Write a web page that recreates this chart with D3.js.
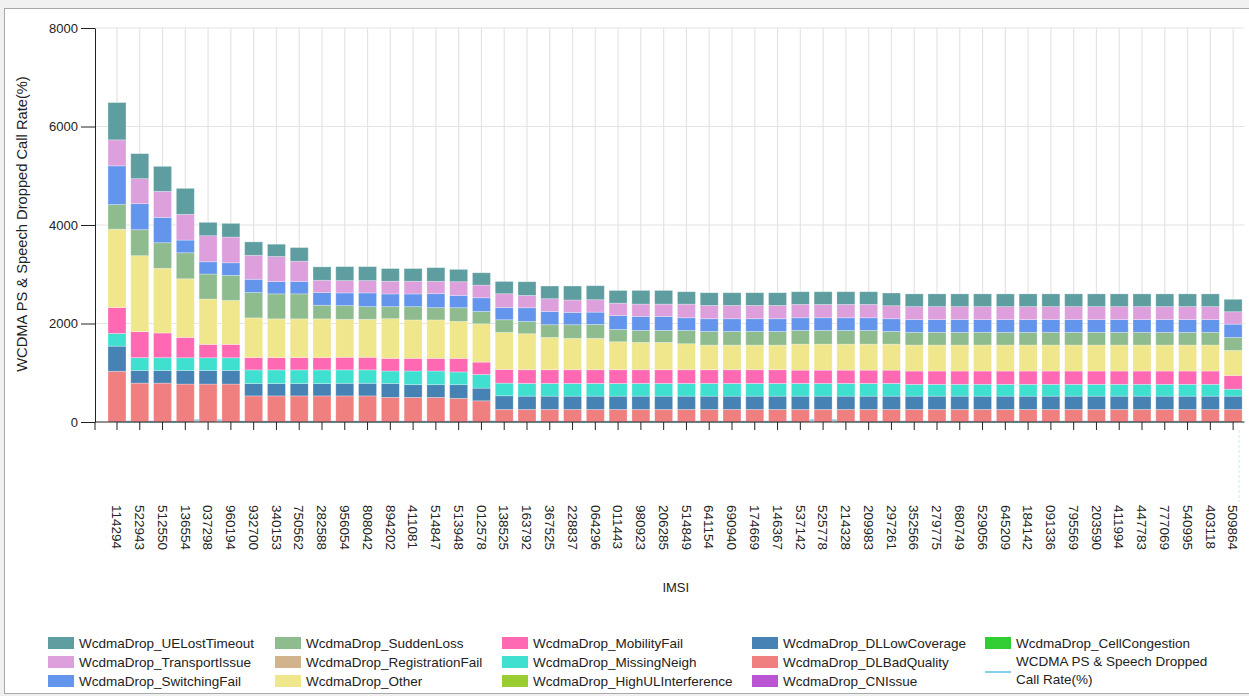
<!DOCTYPE html>
<html>
<head>
<meta charset="utf-8">
<script src="https://cdn.jsdelivr.net/npm/d3@7"></script>
<style>
  html, body { margin: 0; padding: 0; background: #f0f0f0; }
  text { font-family: "Liberation Sans", Arial, sans-serif; }
</style>
</head>
<body>
<div id="chart"></div>
<script>
// categories (IMSI suffixes)
var imsi = ["114294","522943","512550","136554","037298","960194","932700","340153","750562","282588",
            "956054","808042","894202","411081","514847","513948","012578","138525","163792","367525",
            "228837","064296","011443","980923","206285","514849","641154","690940","174669","146367",
            "537142","525778","214328","209983","297261","352566","279775","680749","529056","645209",
            "184142","091336","795569","203590","411994","447783","777069","540995","403118","509864"]

// stacked series, bottom to top
var dlBadQuality = [1030,790,790,770,770,770,530,530,530,530,
                    530,530,500,500,500,480,430,255,255,255,
                    255,255,255,255,255,255,255,255,255,255,
                    255,255,255,255,255,255,255,255,255,255,
                    255,255,255,255,255,255,255,255,255,255]
var dlLowCoverage = [510,258,258,278,278,278,250,250,250,250,
                     256,256,284,258,258,278,258,278,270,270,
                     270,270,270,270,270,270,270,270,270,270,
                     270,270,270,270,270,270,270,270,270,270,
                     270,270,270,270,270,270,270,270,270,270]
var missingNeigh = [257,258,258,256,256,256,278,278,278,278,
                    272,272,252,278,278,258,276,256,258,258,
                    258,258,258,258,258,258,258,258,258,258,
                    258,258,258,258,258,240,240,240,240,240,
                    240,240,240,240,240,240,240,240,240,142]
var mobilityFail = [528,528,501,414,272,272,250,250,250,250,
                    256,256,256,256,256,276,252,278,278,278,
                    278,278,278,278,278,278,278,278,278,278,
                    270,270,270,270,270,270,270,270,270,270,
                    270,270,270,270,270,270,270,270,270,278]
var other = [1590,1543,1313,1190,920,893,806,786,786,786,
             771,771,806,780,780,751,778,751,731,656,
             636,636,568,555,555,528,500,500,500,500,
             528,528,528,528,528,528,528,528,528,528,
             528,528,528,528,528,528,528,528,528,508]
var suddenLoss = [501,528,520,528,508,508,514,508,508,276,
                  278,258,244,270,250,278,250,258,250,258,
                  278,284,250,244,244,270,278,278,278,278,
                  278,278,278,278,258,258,258,258,258,258,
                  258,258,258,258,258,258,258,258,258,264]
var switchingFail = [785,528,515,258,250,256,270,250,250,258,
                     258,278,258,258,284,250,278,250,278,270,
                     250,250,284,284,284,258,258,258,258,258,
                     258,258,258,258,258,258,258,258,258,258,
                     258,258,258,258,258,258,258,258,258,270]
var transportIssue = [528,508,528,522,528,522,487,508,412,250,
                      250,250,258,258,250,278,258,278,250,258,
                      252,252,250,250,250,276,270,270,270,270,
                      270,270,270,270,264,264,264,264,264,264,
                      264,264,264,264,264,264,264,264,264,252]
var ueLostTimeout = [757,508,508,528,272,278,272,250,278,272,
                     284,284,258,258,278,250,250,250,278,258,
                     284,284,258,278,278,252,258,258,258,258,
                     258,258,258,258,258,258,258,258,258,258,
                     258,258,258,258,258,258,258,258,258,252]

// line series
var dropRate = [8,6,7,9,58,10,6,5,7,5,
                6,5,7,6,5,6,8,5,6,7,
                6,5,7,6,5,6,7,6,5,6,
                8,55,9,6,5,6,5,6,7,5,
                6,5,6,7,5,6,5,6,7,5]

var yTicks = [0, 2000, 4000, 6000, 8000]

var series = [
  {name: "WcdmaDrop_DLBadQuality", color: "#F08080", values: dlBadQuality},
  {name: "WcdmaDrop_DLLowCoverage", color: "#4682B4", values: dlLowCoverage},
  {name: "WcdmaDrop_MissingNeigh", color: "#40E0D0", values: missingNeigh},
  {name: "WcdmaDrop_MobilityFail", color: "#FF69B4", values: mobilityFail},
  {name: "WcdmaDrop_Other", color: "#F0E68C", values: other},
  {name: "WcdmaDrop_SuddenLoss", color: "#8FBC8F", values: suddenLoss},
  {name: "WcdmaDrop_SwitchingFail", color: "#6495ED", values: switchingFail},
  {name: "WcdmaDrop_TransportIssue", color: "#DDA0DD", values: transportIssue},
  {name: "WcdmaDrop_UELostTimeout", color: "#5F9EA0", values: ueLostTimeout}
]
var lineName = "WCDMA PS & Speech Dropped Call Rate(%)"
var lineColor = "#87CEEB"

// legend, column by column
var legendCols = [
  [["WcdmaDrop_UELostTimeout", "#5F9EA0"], ["WcdmaDrop_TransportIssue", "#DDA0DD"], ["WcdmaDrop_SwitchingFail", "#6495ED"]],
  [["WcdmaDrop_SuddenLoss", "#8FBC8F"], ["WcdmaDrop_RegistrationFail", "#D2B48C"], ["WcdmaDrop_Other", "#F0E68C"]],
  [["WcdmaDrop_MobilityFail", "#FF69B4"], ["WcdmaDrop_MissingNeigh", "#40E0D0"], ["WcdmaDrop_HighULInterference", "#9ACD32"]],
  [["WcdmaDrop_DLLowCoverage", "#4682B4"], ["WcdmaDrop_DLBadQuality", "#F08080"], ["WcdmaDrop_CNIssue", "#BA55D3"]],
  [["WcdmaDrop_CellCongestion", "#32CD32"]]
]
var legendX = [48, 275, 502, 752, 985]

var W = 1249, H = 696
var plotLeft = 95, plotRight = 1244.5, plotTop = 28, plotBottom = 422

var svg = d3.select("#chart").append("svg")
  .attr("width", W).attr("height", H)

// window panel
svg.append("rect").attr("x", 4.5).attr("y", 8.5).attr("width", W).attr("height", 685)
  .attr("fill", "#fff").attr("stroke", "#a9a9a9")

var x = d3.scaleBand().domain(imsi)
  .range([105.6, plotRight]).paddingInner(0.21).paddingOuter(0.105)
var y = d3.scaleLinear().domain([0, 8000]).range([plotBottom, plotTop])

// grid
svg.append("g").selectAll("line").data(imsi).enter().append("line")
  .attr("x1", function(d) { return x(d) + x.bandwidth() / 2 })
  .attr("x2", function(d) { return x(d) + x.bandwidth() / 2 })
  .attr("y1", plotTop).attr("y2", plotBottom)
  .style("stroke", "#e4e4e4").style("stroke-width", 1.2)
svg.append("g").selectAll("line").data(yTicks.slice(1)).enter().append("line")
  .attr("x1", plotLeft).attr("x2", plotRight)
  .attr("y1", function(d) { return y(d) }).attr("y2", function(d) { return y(d) })
  .style("stroke", "#e4e4e4").style("stroke-width", 1.2)

// line (sits near zero, mostly hidden by the bars)
var line = d3.line()
  .x(function(d, i) { return x(imsi[i]) + x.bandwidth() / 2 })
  .y(function(d) { return y(d) })
svg.append("path").datum(dropRate)
  .attr("d", line).attr("fill", "none")
  .style("stroke", lineColor).style("stroke-width", 2)

// stacked bars
var rows = imsi.map(function(c, i) {
  var r = {imsi: c}
  series.forEach(function(s) { r[s.name] = s.values[i] })
  return r
})
var stack = d3.stack().keys(series.map(function(s) { return s.name }))
var layers = stack(rows)

svg.append("g").selectAll("g").data(layers).enter().append("g")
  .attr("fill", function(d, i) { return series[i].color })
  .selectAll("rect").data(function(d) { return d }).enter().append("rect")
  .attr("x", function(d) { return x(d.data.imsi) })
  .attr("width", x.bandwidth())
  .attr("y", function(d) { return y(d[1]) })
  .attr("height", function(d) { return y(d[0]) - y(d[1]) })
  .style("stroke", "rgba(255,255,255,0.35)").style("stroke-width", 0.8)

// x axis
var xAxis = svg.append("g").attr("transform", "translate(0," + plotBottom + ")")
  .call(d3.axisBottom(x).tickSize(8).tickFormat(""))
xAxis.select(".domain").attr("d", "M" + plotLeft + ",8V0H" + plotRight)
xAxis.selectAll("line").style("stroke", "#222")
xAxis.select(".domain").style("stroke", "#222")

svg.append("g").selectAll("text").data(imsi).enter().append("text")
  .attr("transform", function(d) { return "translate(" + (x(d) + x.bandwidth() / 2) + ",505) rotate(90)" })
  .attr("dy", "0.35em")
  .style("font-size", "13.5px").style("fill", "#222")
  .text(function(d) { return d })

// hover guide at the last category
var lastX = x(imsi[imsi.length - 1]) + x.bandwidth() / 2 + 6
svg.append("line").attr("x1", lastX).attr("x2", lastX).attr("y1", 430).attr("y2", 502)
  .style("stroke", "#bfeff5").style("stroke-dasharray", "3,2")

// y axis
var yAxis = svg.append("g").attr("transform", "translate(" + plotLeft + ",0)")
  .call(d3.axisLeft(y).tickValues(yTicks).tickSizeInner(14).tickSizeOuter(0).tickPadding(3).tickFormat(d3.format("d")))
yAxis.selectAll("text").style("font-size", "13px").style("fill", "#222")
  .style("font-family", "'Liberation Sans', Arial, sans-serif")
yAxis.selectAll("line").style("stroke", "#222")
yAxis.select(".domain").style("stroke", "#222")

// titles
svg.append("text").attr("transform", "translate(22," + ((plotTop + plotBottom) / 2 - 1) + ") rotate(-90)")
  .attr("text-anchor", "middle").attr("dy", "0.35em")
  .style("font-size", "14.7px").style("fill", "#222").text(lineName)
svg.append("text").attr("x", (plotLeft + plotRight) / 2 + 6).attr("y", 587)
  .attr("text-anchor", "middle").attr("dy", "0.35em")
  .style("font-size", "13px").style("fill", "#222").text("IMSI")

// legend
var rowY = [643, 662, 681]
legendCols.forEach(function(col, ci) {
  col.forEach(function(item, ri) {
    svg.append("rect").attr("x", legendX[ci]).attr("y", rowY[ri] - 6)
      .attr("width", 26).attr("height", 12).attr("fill", item[1])
    svg.append("text").attr("x", legendX[ci] + 31).attr("y", rowY[ri])
      .attr("dy", "0.35em").style("font-size", "13.5px").style("fill", "#222")
      .text(item[0])
  })
})
svg.append("line").attr("x1", legendX[4]).attr("x2", legendX[4] + 26)
  .attr("y1", 672).attr("y2", 672)
  .style("stroke", lineColor).style("stroke-width", 2)
var lt = svg.append("text").attr("x", legendX[4] + 31).attr("y", 661)
  .attr("dy", "0.35em").style("font-size", "13.5px").style("fill", "#222")
lt.append("tspan").attr("x", legendX[4] + 31).text("WCDMA PS & Speech Dropped")
lt.append("tspan").attr("x", legendX[4] + 31).attr("dy", "1.35em").text("Call Rate(%)")
</script>
</body>
</html>
